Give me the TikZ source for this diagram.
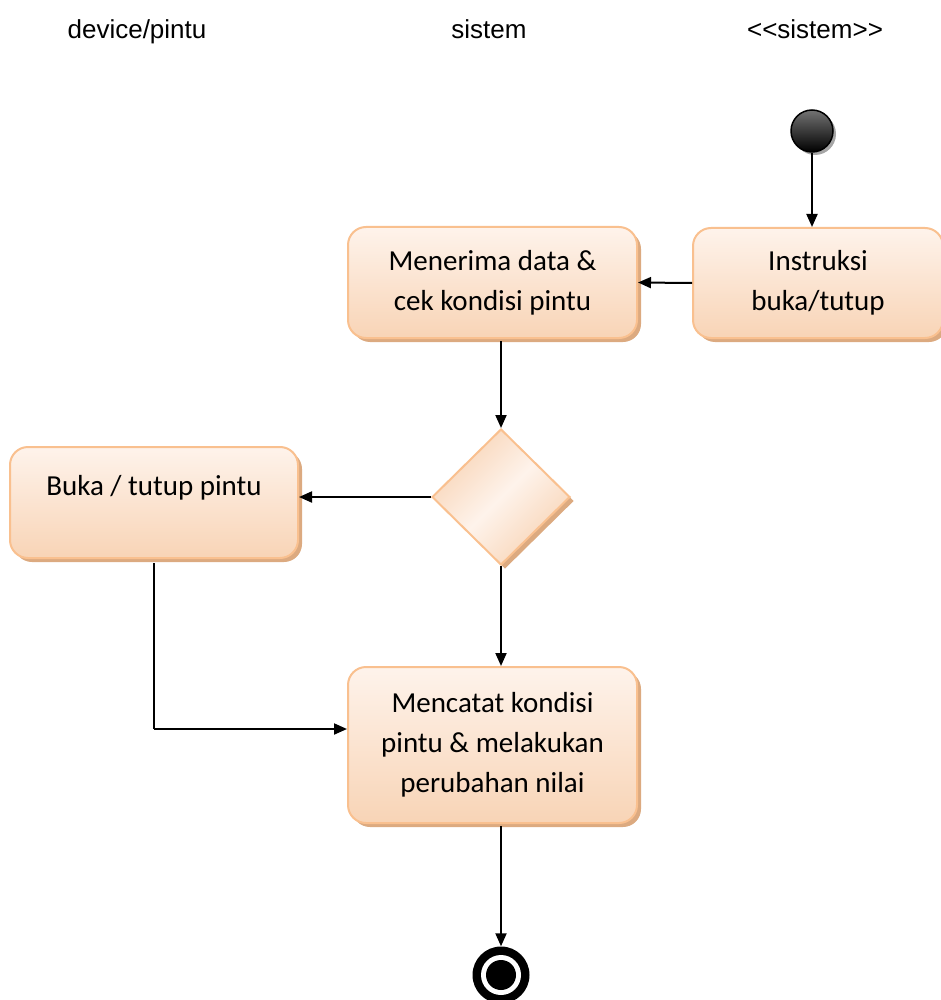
\documentclass[tikz,border=0pt]{standalone}
\usepackage{fontspec}
\newfontfamily\headfont{Liberation Sans}
\newfontfamily\boxfont{Carlito}
\usetikzlibrary{shapes.geometric,shadows,arrows.meta}
\definecolor{boxedge}{RGB}{249,192,143}
\definecolor{boxtop}{RGB}{254,243,235}
\definecolor{boxbot}{RGB}{248,212,182}
\definecolor{boxshade}{RGB}{220,170,128}
\tikzset{
  lanehead/.style={font=\headfont\fontsize{26}{30}\selectfont, inner sep=0pt, anchor=base},
  actbox/.style={draw=boxedge, line width=2pt, rounded corners=18pt,
    top color=boxtop, bottom color=boxbot, align=center,
    font=\boxfont\fontsize{29}{40}\selectfont,
    drop shadow={shadow xshift=4pt, shadow yshift=-4pt, fill=boxshade, opacity=1}},
  decision/.style={diamond, draw=boxedge, line width=2pt, inner sep=0pt,
    minimum width=138pt, minimum height=136pt, aspect=1,
    left color=boxbot, right color=boxbot, middle color=boxtop, shading angle=45,
    drop shadow={shadow xshift=4pt, shadow yshift=-4pt, fill=boxshade, opacity=1}},
  flow/.style={line width=2pt, -{Triangle[length=13pt,width=11pt]}},
  plainline/.style={line width=2pt}
}
\begin{document}
\begin{tikzpicture}[x=1pt,y=-1pt]
\useasboundingbox (0,0) rectangle (941,1000);

% swimlane headings
\node[lanehead] (h1) at (137,39) {device/pintu};
\node[lanehead] (h2) at (489,39) {sistem};
\node[lanehead] (h3) at (815,39) {<<sistem>>};

% initial node
\node[circle, draw=black, line width=1.5pt, minimum size=42pt, inner sep=0pt,
      top color=black!55, bottom color=black,
      drop shadow={shadow xshift=3pt, shadow yshift=-3pt, fill=black!35, opacity=1}]
      (start) at (812,131) {};

% activities
\node[actbox, minimum width=250pt, minimum height=110pt] (instr) at (818,283)
  {Instruksi\\buka/tutup};
\node[actbox, minimum width=289pt, minimum height=111pt] (terima) at (492.5,282.5)
  {Menerima data \&\\cek kondisi pintu};
\node[decision] (dec) at (501,497) {};
\node[actbox, minimum width=288pt, minimum height=111pt, text height=20pt, text depth=35pt]
  (buka) at (154,502.5) {Buka / tutup pintu};
\node[actbox, minimum width=289pt, minimum height=156pt] (catat) at (492.5,745)
  {Mencatat kondisi\\pintu \& melakukan\\perubahan nilai};

% final node
\node[circle, fill=black, minimum size=57pt, inner sep=0pt] (stop) at (501,975) {};
\node[circle, fill=white, minimum size=40pt, inner sep=0pt] (stopring) at (stop) {};
\node[circle, fill=black, minimum size=30pt, inner sep=0pt] (stopdot) at (stop) {};

% control flow
\coordinate (bend) at (154,729);
\draw[flow] (start.south) -- (start.south |- instr.north);
\draw[flow] (instr.west) -- (terima.east);
\draw[flow] (dec.north |- terima.south) ++(0,2) -- (dec.north);
\draw[flow] (dec.west) -- (dec.west -| buka.east);
\draw[plainline] (buka.south) ++(0,4) -- (bend);
\draw[flow] (bend) -- (bend -| catat.west);
\draw[flow] (dec.south) -- (dec.south |- catat.north);
\draw[flow] (stop.north |- catat.south) ++(0,2) -- (stop.north);
\end{tikzpicture}
\end{document}
